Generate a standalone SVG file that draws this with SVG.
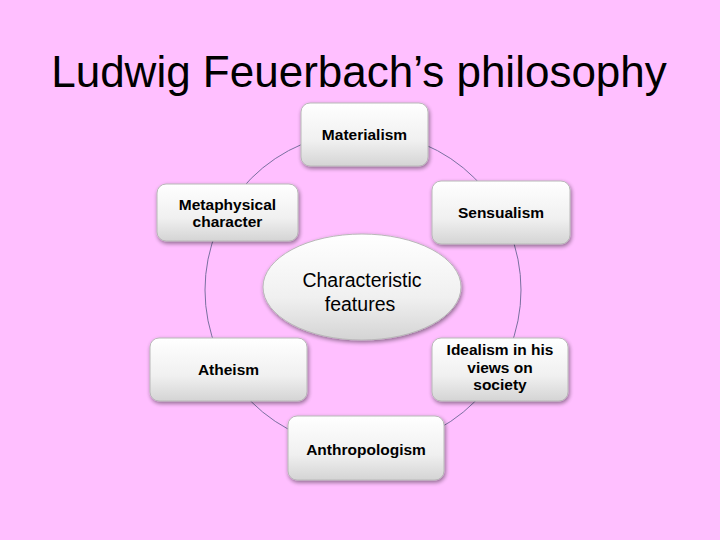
<svg xmlns="http://www.w3.org/2000/svg" width="720" height="540" viewBox="0 0 720 540">
<defs>
<linearGradient id="g" x1="0" y1="0" x2="0" y2="1">
<stop offset="0" stop-color="#ffffff"/>
<stop offset="0.6" stop-color="#f0f0f0"/>
<stop offset="1" stop-color="#d4d4d4"/>
</linearGradient>
<filter id="sh" x="-10%" y="-10%" width="125%" height="130%">
<feGaussianBlur in="SourceAlpha" stdDeviation="2"/>
<feOffset dx="1" dy="2" result="b"/>
<feComponentTransfer><feFuncA type="linear" slope="0.45"/></feComponentTransfer>
<feMerge><feMergeNode/><feMergeNode in="SourceGraphic"/></feMerge>
</filter>
</defs>
<style>
.box{fill:url(#g);stroke:#b8b8b8;stroke-width:1;filter:url(#sh)}
.t{font-family:"Liberation Sans",Arial,sans-serif;font-weight:bold;font-size:15.5px;fill:#000;text-anchor:middle}
.c{font-family:"Liberation Sans",Arial,sans-serif;font-size:19.5px;fill:#000;text-anchor:middle}
</style>
<rect width="720" height="540" fill="#ffbfff"/>
<text x="359" y="87" font-family="'Liberation Sans',Arial,sans-serif" font-size="44" fill="#000" text-anchor="middle">Ludwig Feuerbach’s philosophy</text>
<g id="connectors">
<circle cx="363" cy="290" r="158" fill="none" stroke="#7a70a0" stroke-width="1"/>
</g>
<g id="center">
<ellipse cx="362" cy="287" rx="99" ry="53" class="box"/>
<text class="c" x="362" y="287">Characteristic</text>
<text class="c" x="360" y="311">features</text>
</g>
<g id="materialism">
<rect x="301" y="103" width="127" height="63" rx="9" class="box"/>
<text class="t" x="364.5" y="140">Materialism</text>
</g>
<g id="sensualism">
<rect x="432" y="181" width="138" height="63" rx="9" class="box"/>
<text class="t" x="501" y="218">Sensualism</text>
</g>
<g id="idealism">
<rect x="432" y="338" width="136" height="63" rx="9" class="box"/>
<text class="t" x="500" y="355">Idealism in his</text>
<text class="t" x="500" y="373">views on</text>
<text class="t" x="500" y="390">society</text>
</g>
<g id="anthropologism">
<rect x="288" y="416" width="156" height="64" rx="9" class="box"/>
<text class="t" x="366" y="455">Anthropologism</text>
</g>
<g id="atheism">
<rect x="150" y="338" width="157" height="63" rx="9" class="box"/>
<text class="t" x="228.5" y="375">Atheism</text>
</g>
<g id="metaphysical">
<rect x="157" y="184" width="141" height="57" rx="9" class="box"/>
<text class="t" x="227.5" y="210">Metaphysical</text>
<text class="t" x="227.5" y="227">character</text>
</g>
</svg>
